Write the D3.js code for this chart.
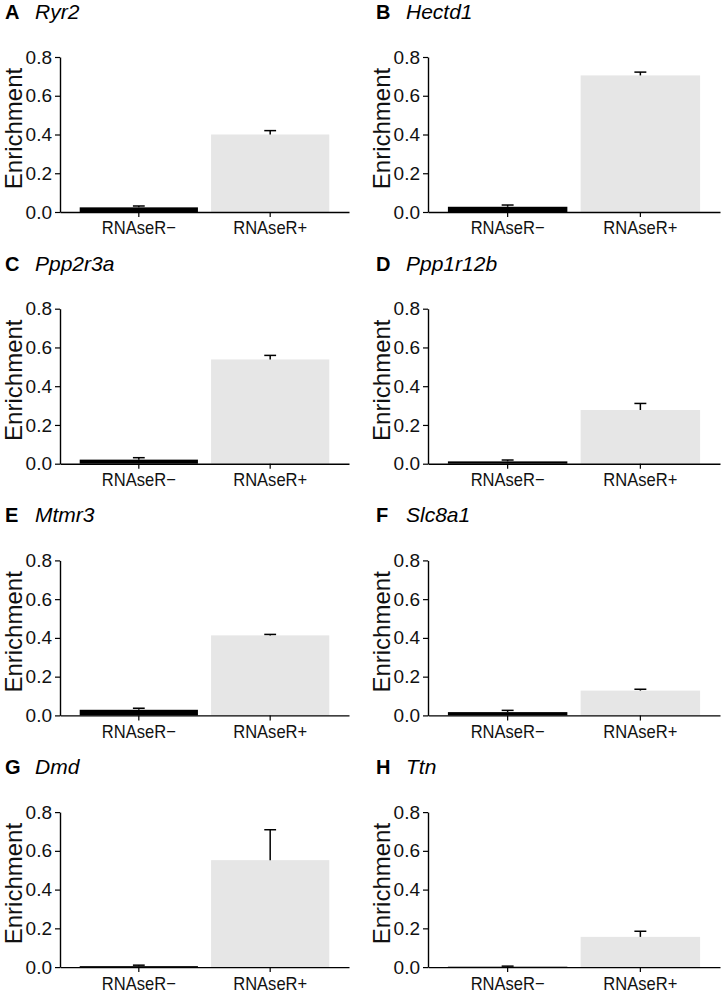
<!DOCTYPE html>
<html>
<head>
<meta charset="utf-8">
<script src="https://cdn.jsdelivr.net/npm/d3@7"></script>
<style>
  html, body { margin: 0; padding: 0; background: #fff; }
  svg { display: block; font-family: "Liberation Sans", Arial, Helvetica, sans-serif; }
</style>
</head>
<body>
<svg id="chart" width="721" height="993"></svg>
<script>
// ---- data ----
const panelLetters = ["A", "B", "C", "D", "E", "F", "G", "H"];
const genes = ["Ryr2", "Hectd1", "Ppp2r3a", "Ppp1r12b", "Mtmr3", "Slc8a1", "Dmd", "Ttn"];
const groups = ["RNAseR\u2212", "RNAseR+"];
const minusMean = [0.024, 0.027, 0.021, 0.012, 0.029, 0.017, 0.005, 0.002];
const minusUpper = [0.031, 0.036, 0.031, 0.019, 0.037, 0.026, 0.010, 0.005];
const plusMean = [0.400, 0.705, 0.538, 0.277, 0.413, 0.128, 0.552, 0.156];
const plusUpper = [0.420, 0.722, 0.559, 0.311, 0.418, 0.135, 0.709, 0.185];
const yTicks = [0.0, 0.2, 0.4, 0.6, 0.8];
const yLabel = "Enrichment";
const barColors = ["#000000", "#e6e6e6"];

// ---- layout ----
const svg = d3.select("#chart");
const rowStep = 251.7;
const colLeft = [60, 428];
const colRight = [349, 720];
const titleX = [5, 376];
const plotTop = 57, plotBottom = 212;

panelLetters.forEach((letter, i) => {
  const col = i % 2, row = Math.floor(i / 2);
  const dy = row * rowStep;
  const left = colLeft[col], right = colRight[col];
  const top = plotTop + dy, bottom = plotBottom + dy;

  const x = d3.scaleBand().domain(groups).range([left, right])
    .paddingInner(0.1).paddingOuter(0.15);
  const y = d3.scaleLinear().domain([0, 0.8]).range([bottom, top]);

  const g = svg.append("g");
  const data = [
    { group: groups[0], mean: minusMean[i], upper: minusUpper[i], color: barColors[0] },
    { group: groups[1], mean: plusMean[i], upper: plusUpper[i], color: barColors[1] }
  ];

  // bars
  g.selectAll("rect.bar").data(data).enter().append("rect")
    .attr("class", "bar")
    .attr("x", d => x(d.group))
    .attr("width", x.bandwidth())
    .attr("y", d => y(d.mean))
    .attr("height", d => y(0) - y(d.mean))
    .attr("fill", d => d.color);

  // error bars (upper only)
  const capW = x.bandwidth() * 0.1;
  const eb = g.selectAll("g.err").data(data).enter().append("g").attr("class", "err");
  eb.append("line")
    .attr("x1", d => x(d.group) + x.bandwidth() / 2)
    .attr("x2", d => x(d.group) + x.bandwidth() / 2)
    .attr("y1", d => y(d.mean))
    .attr("y2", d => y(d.upper))
    .attr("stroke", "#000").attr("stroke-width", 1.5);
  eb.append("line")
    .attr("x1", d => x(d.group) + x.bandwidth() / 2 - capW / 2)
    .attr("x2", d => x(d.group) + x.bandwidth() / 2 + capW / 2)
    .attr("y1", d => y(d.upper))
    .attr("y2", d => y(d.upper))
    .attr("stroke", "#000").attr("stroke-width", 1.5);

  // axes
  const yAxis = d3.axisLeft(y).tickValues(yTicks).tickFormat(d3.format(".1f"))
    .tickSize(5).tickSizeOuter(0).tickPadding(3);
  const gy = g.append("g").attr("transform", `translate(${left},0)`).call(yAxis);
  const xAxis = d3.axisBottom(x).tickSize(5).tickSizeOuter(0).tickPadding(4);
  const gx = g.append("g").attr("transform", `translate(0,${bottom})`).call(xAxis);

  [gy, gx].forEach(ax => {
    ax.select(".domain").attr("stroke", "#000").attr("stroke-width", 1.4);
    ax.selectAll(".tick line").attr("stroke", "#000").attr("stroke-width", 1.2);
    ax.selectAll(".tick text").attr("fill", "#111")
      .style("font-size", "19px")
      .style("font-family", "'Liberation Sans', Arial, sans-serif");
  });
  gx.selectAll(".tick text")
    .attr("textLength", 74)
    .attr("lengthAdjust", "spacingAndGlyphs");

  // y axis title
  g.append("text")
    .attr("transform", `translate(${left - 38},${(top + bottom) / 2 - 6}) rotate(-90)`)
    .attr("text-anchor", "middle")
    .attr("fill", "#111")
    .style("font-size", "24px")
    .text(yLabel);

  // panel title
  const tl = titleX[col];
  g.append("text")
    .attr("x", tl).attr("y", 19 + dy)
    .attr("fill", "#000")
    .style("font-size", "20px")
    .style("font-weight", "bold")
    .text(letter);
  g.append("text")
    .attr("x", tl + 30).attr("y", 19 + dy)
    .attr("fill", "#000")
    .style("font-size", "21px")
    .style("font-style", "italic")
    .text(genes[i]);
});
</script>
</body>
</html>
